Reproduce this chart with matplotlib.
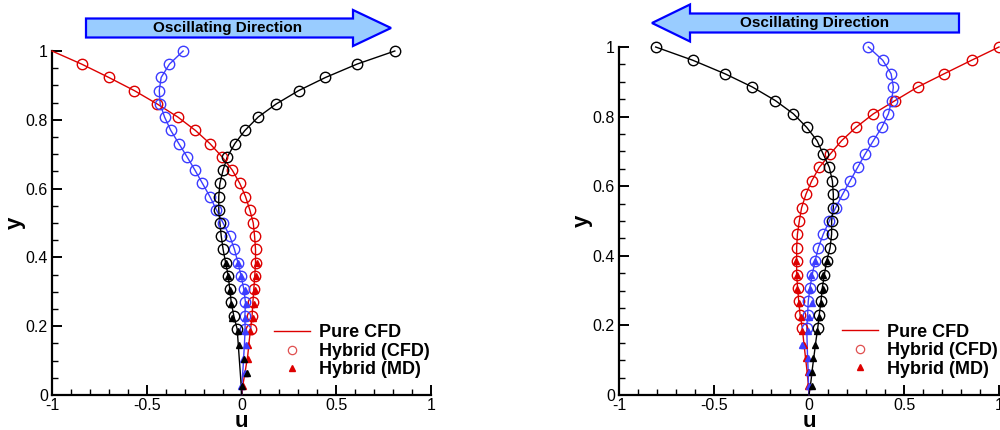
import matplotlib
matplotlib.use("Agg")
import matplotlib.pyplot as plt
from matplotlib.lines import Line2D
from matplotlib.patches import FancyArrow
from matplotlib.ticker import MultipleLocator, FuncFormatter

plt.rcParams['font.family'] = ['Liberation Sans', 'DejaVu Sans']

# wall-normal positions
y_cfd = [0, 0.038, 0.077, 0.115, 0.154, 0.192, 0.231, 0.269, 0.308, 0.346, 0.385,
         0.423, 0.462, 0.5, 0.538, 0.577, 0.615, 0.654, 0.692, 0.731, 0.769, 0.808,
         0.846, 0.885, 0.923, 0.962, 1.0]
y_md = [0.025, 0.065, 0.105, 0.145, 0.185, 0.225, 0.265, 0.305, 0.345, 0.385]

# left panel (oscillating to the right)
red_L = [0, 0.010, 0.022, 0.033, 0.040, 0.048, 0.056, 0.060, 0.065, 0.070, 0.074, 0.074,
         0.069, 0.062, 0.044, 0.021, -0.009, -0.049, -0.102, -0.167, -0.243, -0.336,
         -0.445, -0.566, -0.700, -0.844, -1.0]
blue_L = [0, 0.003, 0.008, 0.012, 0.016, 0.019, 0.018, 0.021, 0.012, -0.002, -0.019, -0.037,
          -0.062, -0.097, -0.132, -0.167, -0.206, -0.246, -0.287, -0.331, -0.373, -0.406,
          -0.429, -0.434, -0.424, -0.380, -0.308]
black_L = [0, -0.003, -0.008, -0.013, -0.018, -0.023, -0.041, -0.054, -0.062, -0.070, -0.084,
           -0.097, -0.107, -0.114, -0.120, -0.120, -0.114, -0.097, -0.075, -0.035, 0.018,
           0.088, 0.183, 0.302, 0.443, 0.610, 0.809]
red_L_md = [0.008, 0.018, 0.036, 0.035, 0.047, 0.062, 0.065, 0.069, 0.079, 0.083]
blue_L_md = [-0.002, 0.016, 0.009, 0.024, 0.021, 0.016, 0.026, 0.021, -0.005, -0.019]
black_L_md = [0.003, 0.030, 0.012, -0.014, -0.019, -0.049, -0.058, -0.062, -0.070, -0.084]

# right panel (oscillating to the left)
red_R = [0, -0.005, -0.012, -0.020, -0.028, -0.035, -0.047, -0.054, -0.060, -0.065, -0.065,
         -0.065, -0.061, -0.051, -0.039, -0.016, 0.014, 0.054, 0.111, 0.172, 0.247, 0.339,
         0.453, 0.572, 0.711, 0.856, 1.0]
blue_R = [0, -0.003, -0.005, -0.008, -0.010, -0.012, -0.007, -0.004, 0.005, 0.017, 0.032,
          0.049, 0.075, 0.107, 0.140, 0.177, 0.216, 0.256, 0.295, 0.339, 0.383, 0.418,
          0.435, 0.444, 0.432, 0.388, 0.312]
black_R = [0, 0.010, 0.018, 0.027, 0.036, 0.046, 0.054, 0.063, 0.070, 0.081, 0.093, 0.111,
           0.119, 0.119, 0.128, 0.128, 0.123, 0.107, 0.075, 0.042, -0.012, -0.082, -0.177,
           -0.298, -0.442, -0.612, -0.807]
red_R_md = [-0.004, -0.007, -0.016, -0.025, -0.035, -0.042, -0.051, -0.062, -0.065, -0.068]
blue_R_md = [0.002, -0.002, -0.004, -0.039, -0.004, -0.002, 0.017, 0.005, 0.009, 0.032]
black_R_md = [0.017, 0.017, 0.023, 0.032, 0.040, 0.054, 0.063, 0.075, 0.075, 0.093]

RED, BLUE, BLACK = '#dd0000', '#3c3cff', '#000000'
legend_labels = ['Pure CFD', 'Hybrid (CFD)', 'Hybrid (MD)']


def draw_panel(ax, series, circle_rng):
    for (u_line, u_md, col), (c0, c1) in zip(series, circle_rng):
        ax.plot(u_line, y_cfd, color=col, lw=1.0, clip_on=False, zorder=3)
        ax.plot(u_line[c0:c1], y_cfd[c0:c1], ls='none', marker='o', ms=7.5, mfc='none',
                mec=col, mew=1.0, clip_on=False, zorder=4)
        ax.plot(u_md, y_md, ls='none', marker='^', ms=4.8, color=col,
                clip_on=False, zorder=5)
    ax.set_xlim(-1, 1)
    ax.set_ylim(0, 1)
    for s in ['top', 'right']:
        ax.spines[s].set_visible(False)
    for s in ['left', 'bottom']:
        ax.spines[s].set_linewidth(1.6)
    ax.xaxis.set_major_locator(MultipleLocator(0.5))
    ax.xaxis.set_minor_locator(MultipleLocator(0.1))
    ax.yaxis.set_major_locator(MultipleLocator(0.2))
    ax.yaxis.set_minor_locator(MultipleLocator(0.05))
    ax.xaxis.set_major_formatter(FuncFormatter(lambda v, p: f'{v:g}'))
    ax.yaxis.set_major_formatter(FuncFormatter(lambda v, p: f'{v:g}'))
    ax.tick_params(which='major', direction='in', length=7, width=1.4, labelsize=11.5, pad=3)
    ax.tick_params(which='minor', direction='in', length=4, width=1.0)
    ax.tick_params(axis='x', pad=2)
    ax.set_xlabel('u', fontsize=16, fontweight='bold', labelpad=-1)
    ax.set_ylabel('y', fontsize=16, fontweight='bold', labelpad=0)

    handles = [Line2D([], [], color=RED, lw=1.0),
               Line2D([], [], ls='none', marker='o', ms=6, mfc='none', mec='#e05050', mew=0.9),
               Line2D([], [], ls='none', marker='^', ms=4, color=RED)]
    ax.legend(handles, legend_labels, loc='upper left', bbox_to_anchor=(0.586, 0.205),
              frameon=False, borderpad=0, borderaxespad=0, handlelength=2.0,
              handletextpad=0.5, labelspacing=0.08,
              prop={'family': 'Liberation Sans', 'weight': 'bold', 'size': 13})


fig = plt.figure(figsize=(10, 4.3), dpi=100)
axL = fig.add_axes([0.052, 35 / 430, 0.379, 344 / 430])
axR = fig.add_axes([0.619, 35 / 430, 0.380, 348 / 430])

# the red circle at u=-1 is not drawn in the left panel
draw_panel(axL, [(red_L, red_L_md, RED), (blue_L, blue_L_md, BLUE), (black_L, black_L_md, BLACK)],
           [(5, 26), (5, 27), (5, 27)])
draw_panel(axR, [(red_R, red_R_md, RED), (blue_R, blue_R_md, BLUE), (black_R, black_R_md, BLACK)],
           [(5, 27), (5, 27), (5, 27)])

# oscillating direction arrows
arrow_fc, arrow_ec = '#99ccff', '#0000ff'
fig.patches.append(FancyArrow(0.086, 1 - 28 / 430, 0.305, 0, width=19 / 430, head_width=36 / 430,
                              head_length=0.038, length_includes_head=True, fc=arrow_fc,
                              ec=arrow_ec, lw=1.6, transform=fig.transFigure, figure=fig))
fig.patches.append(FancyArrow(0.959, 1 - 23 / 430, -0.307, 0, width=19 / 430, head_width=37 / 430,
                              head_length=0.038, length_includes_head=True, fc=arrow_fc,
                              ec=arrow_ec, lw=1.6, transform=fig.transFigure, figure=fig))
fig.text(0.228, 1 - 28 / 430, 'Oscillating Direction', ha='center', va='center',
         fontsize=11, fontweight='bold')
fig.text(0.815, 1 - 23 / 430, 'Oscillating Direction', ha='center', va='center',
         fontsize=11, fontweight='bold')

fig.savefig('out.png', dpi=100)
